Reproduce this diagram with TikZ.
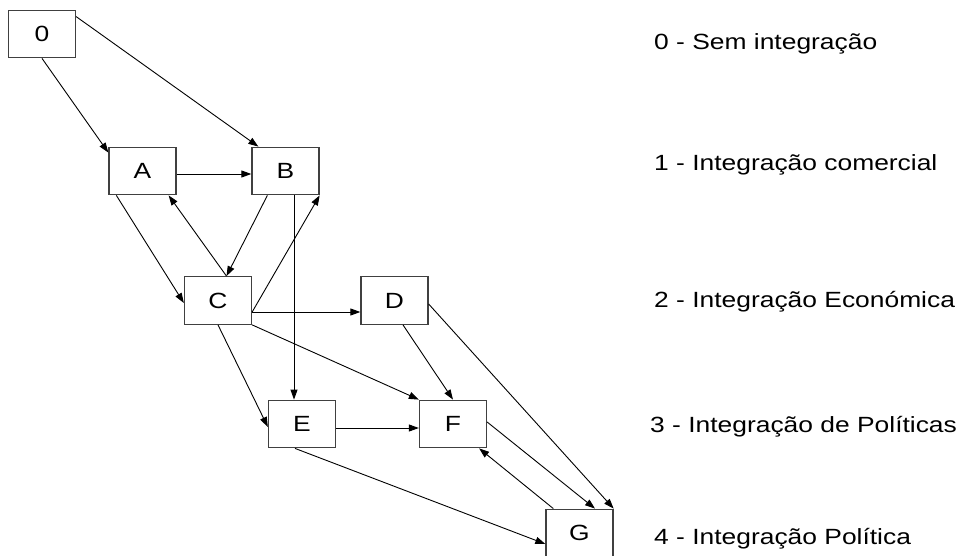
\documentclass[tikz,border=0pt]{standalone}
\usepackage{fontspec}
\setmainfont[FakeStretch=1.2]{Liberation Sans}
\usetikzlibrary{arrows.meta,calc}
\begin{document}
\begin{tikzpicture}[x=1pt,y=1pt,
  box/.style={draw=black!75,line width=1.3pt,minimum width=67pt,minimum height=47.5pt,inner sep=0pt,font=\fontsize{22}{26}\selectfont},
  arr/.style={line width=0.9pt,-{Triangle[length=10pt,width=7pt]}},
  leg/.style={anchor=base west,inner sep=0pt,font=\fontsize{22}{26}\selectfont}]
\useasboundingbox[fill=white] (0,0) rectangle (964,-556);
% boxes
\node[box] (n0) at (42,-34) {0};
\node[box] (A) at (142.5,-171) {A};
\node[box] (B) at (285.5,-171) {B};
\node[box] (C) at (218,-300.5) {C};
\node[box] (D) at (394.5,-300.5) {D};
\node[box] (E) at (302,-424) {E};
\node[box] (F) at (453,-424) {F};
\node[box] (G) at (579.5,-533) {G};
% legend
\node[leg] (l0) at (654,-50) {0 - Sem integração};
\node[leg] (l1) at (654,-170.5) {1 - Integração comercial};
\node[leg] (l2) at (654,-307.5) {2 - Integração Económica};
\node[leg] (l3) at (650,-432.5) {3 - Integração de Políticas};
\node[leg] (l4) at (654,-544.5) {4 - Integração Política};
% shared points
\coordinate (Ctop) at ($(C.north)+(8.5,0)$);
\coordinate (Cright) at ($(C.east)+(0,-11.5)$);
\coordinate (BE1) at ($(B.south)+(8.5,0)$);
\coordinate (BE2) at (BE1 |- E.north);
% connectors
\draw[arr] (n0.south) -- ([yshift=-6pt]A.north west);
\draw[arr] ([yshift=-7pt]n0.north east) -- ([xshift=7pt]B.north west);
\draw[arr] ([yshift=-3pt]A.east) -- ([yshift=-3pt]B.west);
\draw[arr] ([xshift=8pt]A.south west) -- ([yshift=-2.5pt]C.west);
\draw[arr] (Ctop) -- ([xshift=-8pt]A.south east);
\draw[arr] ([xshift=16pt]B.south west) -- (Ctop);
\draw[arr] (Cright) -- (B.south east);
\draw[arr] (BE1) -- (BE2);
\draw[arr] (Cright) -- ($(D.west)+(0,-11.5)$);
\draw[arr] (C.south) -- ([yshift=-3pt]E.west);
\draw[arr] (C.south east) -- (F.north west);
\draw[arr] ([xshift=8.5pt]D.south) -- (F.north);
\draw[arr] ([yshift=-3.5pt]D.east) -- (G.north east);
\draw[arr] ([yshift=-4pt]E.east) -- ([yshift=-4pt]F.west);
\draw[arr] ([xshift=-7pt]E.south) -- ([yshift=-11pt]G.west);
\draw[arr] ([yshift=2pt]F.east) -- ([xshift=15.5pt]G.north);
\draw[arr] ([xshift=8pt]G.north west) -- ([xshift=-8pt]F.south east);
\end{tikzpicture}
\end{document}
